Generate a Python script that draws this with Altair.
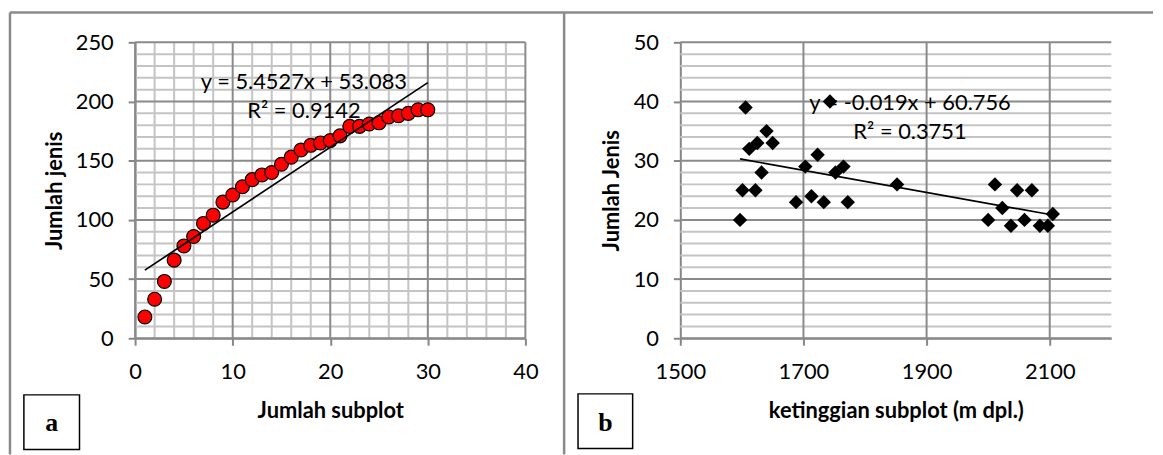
import altair as alt
import pandas as pd

# ---------------- data ----------------
a_subplot = list(range(1, 31))
a_jenis = [18, 33, 48, 66, 78, 86, 97, 104, 115, 121, 128, 134, 138, 140, 147,
           153, 159, 163, 165, 167, 171, 179, 179, 181, 182, 187, 188, 190, 193, 193]

b_elev = [1597, 1601, 1606, 1612, 1625, 1622, 1632, 1640, 1650, 1688, 1703, 1713,
          1723, 1733, 1743, 1752, 1765, 1772, 1852, 2000, 2011, 2023, 2037, 2047,
          2059, 2071, 2084, 2097, 2105]
b_jenis = [20, 25, 39, 32, 33, 25, 28, 35, 33, 23, 29, 24, 31, 23, 40, 28, 29, 23,
           26, 20, 26, 22, 19, 25, 20, 25, 19, 19, 21]

a_xticks = [0, 10, 20, 30, 40]
a_yticks = [0, 50, 100, 150, 200, 250]
a_xminor = [v for v in range(0, 41, 2) if v % 10]
a_yminor = [v for v in range(0, 251, 10) if v % 50]

b_xticks = [1500, 1700, 1900, 2100]
b_xgrid = [1700, 1900, 2100]
b_yticks = [0, 10, 20, 30, 40, 50]
b_yminor = [v for v in range(0, 51, 2) if v % 10]

a_eq_text = ["y = 5.4527x + 53.083", "R\u00b2 = 0.9142"]
a_eq_x = [17.3, 17.3]
a_eq_y = [210.5, 186]
b_eq_text = ["y = -0.019x + 60.756", "R\u00b2 = 0.3751"]
b_eq_x = [1873, 1873]
b_eq_y = [38.6, 33.6]

# ---------------- styling ----------------
FONT = "Lato"
AXIS_COL = "#868686"
GRID_MAJOR = "#8a8a8a"
GRID_MINOR = "#c4c4c4"
FRAME = "#8a8a8a"
W_A, W_B, H = 393, 434, 298
TICK_FS = 22
TITLE_FS = 22
EQ_FS = 22

df_a = pd.DataFrame({"x": a_subplot, "y": a_jenis})
df_b = pd.DataFrame({"x": b_elev, "y": b_jenis})
one = pd.DataFrame({"k": [0]})

sxa = alt.Scale(domain=[0, 40], nice=False, zero=False)
sya = alt.Scale(domain=[0, 250], nice=False)
sxb = alt.Scale(domain=[1500, 2200], nice=False, zero=False)
syb = alt.Scale(domain=[0, 50], nice=False)


def xaxis(values, title):
    return alt.Axis(values=values, grid=False, format="d",
                    domainColor=AXIS_COL, domainWidth=2,
                    tickColor=AXIS_COL, tickWidth=2, tickSize=7,
                    labelFont=FONT, labelFontSize=TICK_FS, labelColor="black",
                    labelPadding=17, labelFlush=False, labelOverlap=False,
                    title=title, titleFont=FONT, titleFontSize=TITLE_FS,
                    titleFontWeight="bold", titleColor="black",
                    titleBaseline="alphabetic", titleY=80)


def yaxis(values, title, tx):
    return alt.Axis(values=values, grid=False, format="d",
                    domainColor=AXIS_COL, domainWidth=2,
                    tickColor=AXIS_COL, tickWidth=2, tickSize=7,
                    labelFont=FONT, labelFontSize=TICK_FS, labelColor="black",
                    labelPadding=15, labelFlush=False, labelOverlap=False,
                    title=title, titleFont=FONT, titleFontSize=TITLE_FS,
                    titleFontWeight="bold", titleColor="black",
                    titleAngle=270, titleBaseline="middle", titleX=tx)


def hrule(x1, x2, y):
    return alt.Chart(one).mark_rule(color=FRAME, strokeWidth=2.5).encode(
        x=alt.value(x1), x2=alt.value(x2), y=alt.value(y))


def vrule(x, y1, y2):
    return alt.Chart(one).mark_rule(color=FRAME, strokeWidth=2.5).encode(
        x=alt.value(x), y=alt.value(y1), y2=alt.value(y2))


def box(x1, x2, y1, y2, letter, tx, ty):
    r = alt.Chart(one).mark_rect(fill="white", stroke="black", strokeWidth=1.5).encode(
        x=alt.value(x1), x2=alt.value(x2), y=alt.value(y1), y2=alt.value(y2))
    t = alt.Chart(pd.DataFrame({"lab": [letter]})).mark_text(
        font="Liberation Serif", fontWeight="bold", fontSize=26, color="black",
        baseline="alphabetic", align="center").encode(
        x=alt.value(tx), y=alt.value(ty), text="lab:N")
    return r + t


def panel(df, sx, sy, ax_x, ax_y, xminor, yminor, xmajor, ymajor, eq_df, points):
    X = lambda f: alt.X(f, scale=sx, axis=ax_x)
    Y = lambda f: alt.Y(f, scale=sy, axis=ax_y)
    layers = []
    if xminor:
        layers.append(alt.Chart(pd.DataFrame({"v": xminor})).mark_rule(
            color=GRID_MINOR, strokeWidth=2).encode(x=X("v:Q")))
    layers.append(alt.Chart(pd.DataFrame({"v": yminor})).mark_rule(
        color=GRID_MINOR, strokeWidth=2).encode(y=Y("v:Q")))
    layers.append(alt.Chart(pd.DataFrame({"v": xmajor})).mark_rule(
        color=GRID_MAJOR, strokeWidth=2).encode(x=X("v:Q")))
    layers.append(alt.Chart(pd.DataFrame({"v": ymajor})).mark_rule(
        color=GRID_MAJOR, strokeWidth=2).encode(y=Y("v:Q")))
    layers.append(alt.Chart(eq_df).mark_text(
        font=FONT, fontSize=EQ_FS, color="black", align="center",
        baseline="alphabetic").encode(x=X("x:Q"), y=Y("y:Q"), text="t:N"))
    layers.append(alt.Chart(df).mark_point(**points).encode(x=X("x:Q"), y=Y("y:Q")))
    layers.append(alt.Chart(df).transform_regression("x", "y").mark_line(
        color="black", strokeWidth=1.7).encode(x=X("x:Q"), y=Y("y:Q")))
    return layers


pa = panel(df_a, sxa, sya, xaxis(a_xticks, "Jumlah subplot"),
           yaxis(a_yticks, "Jumlah jenis", -81),
           a_xminor, a_yminor, a_xticks, a_yticks,
           pd.DataFrame({"x": a_eq_x, "y": a_eq_y, "t": a_eq_text}),
           dict(shape="circle", filled=True, fill="#ff0000", stroke="black",
                strokeWidth=1.2, size=195, opacity=1))
chart_a = alt.layer(
    *pa,
    hrule(-126, 432, -30), vrule(-126, -30, 415), vrule(432, -30, 415),
    box(-112, -56, 355, 410, "a", -84, 391),
).properties(width=W_A, height=H)

pb = panel(df_b, sxb, syb, xaxis(b_xticks, "ketinggian subplot (m dpl.)"),
           yaxis(b_yticks, "Jumlah Jenis", -69),
           None, b_yminor, b_xgrid, b_yticks,
           pd.DataFrame({"x": b_eq_x, "y": b_eq_y, "t": b_eq_text}),
           dict(shape="diamond", filled=True, color="black", size=210, opacity=1))
chart_b = alt.layer(
    *pb,
    hrule(-117, 476, -30),
    box(-103, -48, 354, 409, "b", -75.5, 391),
).properties(width=W_B, height=H)

chart = alt.hconcat(chart_a, chart_b, spacing=156, bounds="flush").properties(
    padding={"left": 0, "top": 1, "right": 0, "bottom": 0},
    background="white",
).configure_view(stroke=None)

chart.save("out.html", embed_options={"renderer": "svg", "actions": False})
